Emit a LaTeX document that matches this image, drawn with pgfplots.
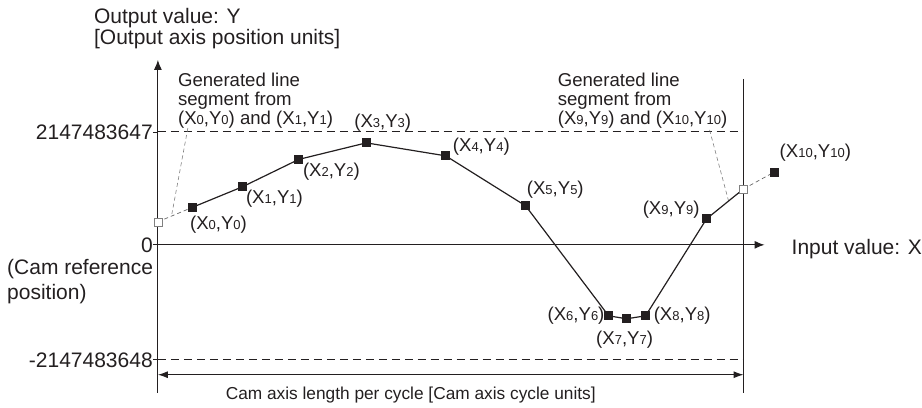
\documentclass[border=0pt]{standalone}
\usepackage{pgfplots}
\pgfplotsset{compat=1.18}
\usepackage{fontspec}
\setmainfont{Liberation Sans}
\usetikzlibrary{arrows.meta}
\definecolor{txt}{RGB}{35,31,32}
\newcommand{\fA}{\fontsize{21}{23}\selectfont}
\newcommand{\fB}{\fontsize{18.6}{19}\selectfont}
\newcommand{\fC}{\fontsize{17.3}{19}\selectfont}
\newcommand{\sd}[1]{{\fontsize{13}{13}\selectfont #1}}
\begin{document}
\begin{tikzpicture}
\begin{axis}[
  x=1pt, y=114pt,
  xmin=0, xmax=607, ymin=-1.298, ymax=1.623,
  enlargelimits=false,
  axis lines=middle,
  axis line style={line width=1pt, color=txt},
  x axis line style={-{Latex[length=10pt,width=8pt]}},
  y axis line style={-{Latex[length=10pt,width=8pt]}},
  xtick=\empty,
  ytick={-1.009,0,0.991},
  yticklabels={-2147483648,0,2147483647},
  hide obscured y ticks=false,
  tick align=outside,
  major tick length=5pt,
  tick style={line width=0.8pt, color=txt},
  yticklabel style={font=\fA, text=txt, anchor=east, inner sep=0pt},
  /pgf/number format/assume math mode=true,
  clip=false,
]
% invisible bounding box of the whole picture
\path (axis cs:-158,2.149) rectangle (axis cs:764,-1.4298);

% limit lines and cycle length
\draw[txt, dash pattern=on 8pt off 5pt, line width=0.9pt] (axis cs:0,0.991) -- (axis cs:586,0.991);
\draw[txt, dash pattern=on 8pt off 5pt, line width=0.9pt] (axis cs:0,-1.009) -- (axis cs:586,-1.009);
\draw[txt, line width=1pt] (axis cs:586,1.456) -- (axis cs:586,-1.298);
\draw[txt, line width=1pt, {Latex[length=10pt,width=7pt]}-{Latex[length=10pt,width=7pt]}] (axis cs:0,-1.140) -- (axis cs:586,-1.140);

% pointer lines
\draw[gray, dash pattern=on 4pt off 3pt, line width=0.6pt] (axis cs:30,1.026) -- (axis cs:14,0.272);
\draw[gray, dash pattern=on 4pt off 3pt, line width=0.6pt] (axis cs:552,1.009) -- (axis cs:571,0.386);

% generated (extension) segments
\addplot[gray!80!black, dash pattern=on 4pt off 3pt, line width=0.7pt, no marks] coordinates {(0,0.202) (34.5,0.329)};
\addplot[gray!80!black, dash pattern=on 4pt off 3pt, line width=0.7pt, no marks] coordinates {(586,0.491) (617,0.640)};

% cam curve
\addplot[txt, line width=1.2pt, no marks] coordinates {(549,0.228) (586,0.491)};
\addplot[txt, line width=1.2pt, mark=square*, mark size=4pt, mark options={solid, fill=txt}] coordinates {
(34.5,0.329) (84.5,0.509) (141,0.750) (208.5,0.895) (288,0.781) (368,0.342)
(451,-0.623) (469,-0.649) (488,-0.623) (549,0.228)};
\addplot[only marks, mark=square*, mark size=4pt, mark options={fill=txt, draw=txt}] coordinates {(617,0.640)};
\addplot[only marks, mark=square*, mark size=4pt, mark options={fill=white, draw=gray, line width=0.6pt}] coordinates {(0,0.202) (586,0.491)};

% texts
\node[anchor=base west, font=\fA, text=txt, inner sep=0pt] at (axis cs:-64,1.939) {Output value: Y};
\node[anchor=base west, font=\fA, text=txt, inner sep=0pt] at (axis cs:-64,1.754) {[Output axis position units]};
\node[anchor=base west, font=\fA, text=txt, inner sep=0pt] at (axis cs:634,-0.088) {Input value: X};
\node[anchor=base west, font=\fA, text=txt, inner sep=0pt] at (axis cs:-151,-0.263) {(Cam reference};
\node[anchor=base west, font=\fA, text=txt, inner sep=0pt] at (axis cs:-151,-0.482) {position)};
\node[anchor=base, font=\fC, text=txt, inner sep=0pt] at (axis cs:253,-1.360) {Cam axis length per cycle [Cam axis cycle units]};

\node[anchor=base west, font=\fB, text=txt, inner sep=0pt] at (axis cs:20,1.386) {Generated line};
\node[anchor=base west, font=\fB, text=txt, inner sep=0pt] at (axis cs:20,1.219) {segment from};
\node[anchor=base west, font=\fB, text=txt, inner sep=0pt] at (axis cs:20,1.053) {(X\sd{0},Y\sd{0}) and (X\sd{1},Y\sd{1})};
\node[anchor=base west, font=\fB, text=txt, inner sep=0pt] at (axis cs:400,1.386) {Generated line};
\node[anchor=base west, font=\fB, text=txt, inner sep=0pt] at (axis cs:400,1.219) {segment from};
\node[anchor=base west, font=\fB, text=txt, inner sep=0pt] at (axis cs:400,1.053) {(X\sd{9},Y\sd{9}) and (X\sd{10},Y\sd{10})};

\node[anchor=base west, font=\fB, text=txt, inner sep=0pt] at (axis cs:32,0.132) {(X\sd{0},Y\sd{0})};
\node[anchor=base west, font=\fB, text=txt, inner sep=0pt] at (axis cs:88,0.360) {(X\sd{1},Y\sd{1})};
\node[anchor=base west, font=\fB, text=txt, inner sep=0pt] at (axis cs:145,0.596) {(X\sd{2},Y\sd{2})};
\node[anchor=base, font=\fB, text=txt, inner sep=0pt] at (axis cs:225,1.026) {(X\sd{3},Y\sd{3})};
\node[anchor=base west, font=\fB, text=txt, inner sep=0pt] at (axis cs:295,0.816) {(X\sd{4},Y\sd{4})};
\node[anchor=base west, font=\fB, text=txt, inner sep=0pt] at (axis cs:369,0.439) {(X\sd{5},Y\sd{5})};
\node[anchor=base east, font=\fB, text=txt, inner sep=0pt] at (axis cs:447,-0.667) {(X\sd{6},Y\sd{6})};
\node[anchor=base, font=\fB, text=txt, inner sep=0pt] at (axis cs:467,-0.877) {(X\sd{7},Y\sd{7})};
\node[anchor=base west, font=\fB, text=txt, inner sep=0pt] at (axis cs:496,-0.667) {(X\sd{8},Y\sd{8})};
\node[anchor=base west, font=\fB, text=txt, inner sep=0pt] at (axis cs:485,0.263) {(X\sd{9},Y\sd{9})};
\node[anchor=base west, font=\fB, text=txt, inner sep=0pt] at (axis cs:622,0.763) {(X\sd{10},Y\sd{10})};
\end{axis}
\end{tikzpicture}
\end{document}
